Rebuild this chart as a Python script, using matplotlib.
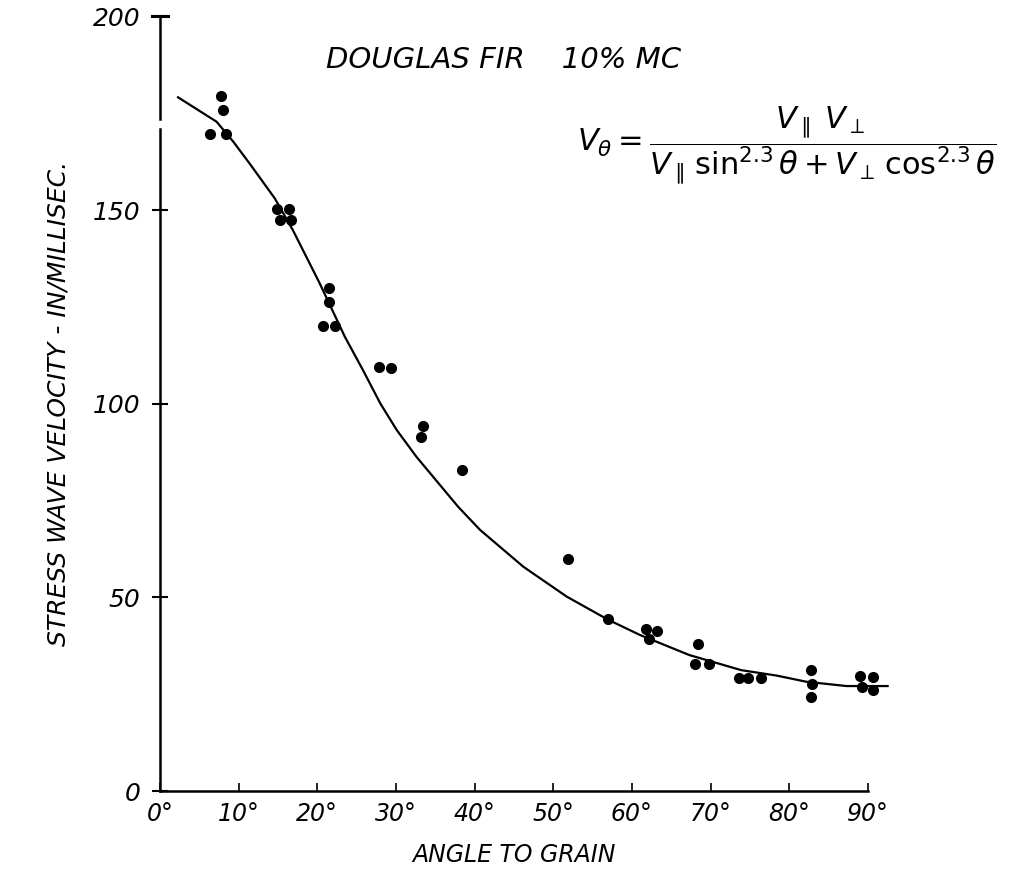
import matplotlib.pyplot as plt

#---------------------------------------#
# DATA               #
#---------------------------------------#
# measured points (angle in degrees, velocity in in/millisec)
POINT_ANGLES = [7.8, 8.0, 6.4, 8.4,
                14.9, 16.4, 15.2, 16.7,
                21.5, 21.5, 20.7, 22.3,
                27.9, 29.4, 33.4, 33.2, 38.4, 51.9,
                56.9, 61.8, 63.2, 62.2, 68.4, 68.0, 69.8,
                73.6, 74.8, 76.4, 82.7, 82.9, 82.7,
                89.0, 90.6, 89.2, 90.6]
POINT_VELOCITIES = [179.4, 175.7, 169.6, 169.6,
                    150.3, 150.3, 147.4, 147.4,
                    129.8, 126.3, 120.1, 120.1,
                    109.4, 109.1, 94.2, 91.3, 83.0, 60.0,
                    44.3, 41.8, 41.4, 39.2, 37.9, 32.8, 32.9,
                    29.1, 29.1, 29.3, 31.2, 27.5, 24.3,
                    29.7, 29.5, 26.8, 26.2]

# fitted curve
CURVE_ANGLES = [2.3, 7.2, 9.3, 11.4, 14.6, 16.9, 20.3, 23.5, 25.8, 28.0,
                30.1, 32.6, 35.6, 37.9, 40.7, 46.2, 51.7, 56.9, 61.0, 67.3,
                73.9, 78.4, 82.2, 87.3, 92.5]
CURVE_VELOCITIES = [179.1, 172.8, 167.7, 162.0, 153.0, 144.8, 131.1, 117.3,
                    108.7, 100.1, 93.2, 86.3, 79.0, 73.4, 67.4, 57.9, 50.2,
                    44.3, 40.3, 35.1, 31.2, 29.8, 28.2, 27.1, 27.1]

X_TICKS = [0, 10, 20, 30, 40, 50, 60, 70, 80, 90]
X_TICK_LABELS = [f"{t}°" for t in X_TICKS]
Y_TICKS = [0, 50, 100, 150, 200]
#---------------------------------------#

plt.rcParams['font.family'] = ['DejaVu Sans']
plt.rcParams['mathtext.fontset'] = 'dejavusans'
plt.rcParams['mathtext.default'] = 'it'

fig = plt.figure(figsize=(10.28, 8.85), dpi=100)
ax = fig.add_axes([0.1556, 0.1062, 0.6887, 0.8753])

# curve and points
ax.plot(CURVE_ANGLES, CURVE_VELOCITIES, color='black', lw=1.6, clip_on=False)
ax.plot(POINT_ANGLES, POINT_VELOCITIES, 'o', color='black', ms=7,
        clip_on=False)

ax.set_xlim(0, 90)
ax.set_ylim(0, 200)

# only the left and bottom axis lines, hand drawn look
for side in ['top', 'right']:
    ax.spines[side].set_visible(False)
ax.spines['left'].set_linewidth(1.8)
ax.spines['bottom'].set_linewidth(1.8)
ax.spines['left'].set_bounds(0, 171)
# top segment of the broken y axis
ax.plot([0, 0], [173.5, 200], color='black', lw=1.8, clip_on=False)
ax.plot([-1.0, 1.0], [200, 200], color='black', lw=2.2, clip_on=False)

ax.set_xticks(X_TICKS)
ax.set_xticklabels(X_TICK_LABELS, fontsize=17, fontstyle='italic')
ax.set_yticks(Y_TICKS)
ax.set_yticklabels([str(t) for t in Y_TICKS], fontsize=18, fontstyle='italic')
ax.tick_params(axis='x', direction='in', length=6, width=1.2, pad=8)
ax.tick_params(axis='y', direction='inout', length=12, width=1.5, pad=8)

ax.set_xlabel("ANGLE TO GRAIN", fontsize=17, fontstyle='italic', labelpad=12)
ax.set_ylabel("STRESS WAVE VELOCITY - IN/MILLISEC.", fontsize=18,
              fontstyle='italic', labelpad=16)

# title and formula
fig.text(0.49, 0.932, "DOUGLAS FIR    10% MC", fontsize=21,
         fontstyle='italic', ha='center', va='center')
fig.text(0.765, 0.835,
         r"$V_\theta = \dfrac{V_{\parallel}\;V_{\perp}}"
         r"{V_{\parallel}\,\sin^{2.3}\theta + V_{\perp}\,\cos^{2.3}\theta}$",
         fontsize=22, ha='center', va='center')

plt.savefig("out.png", dpi=100)
